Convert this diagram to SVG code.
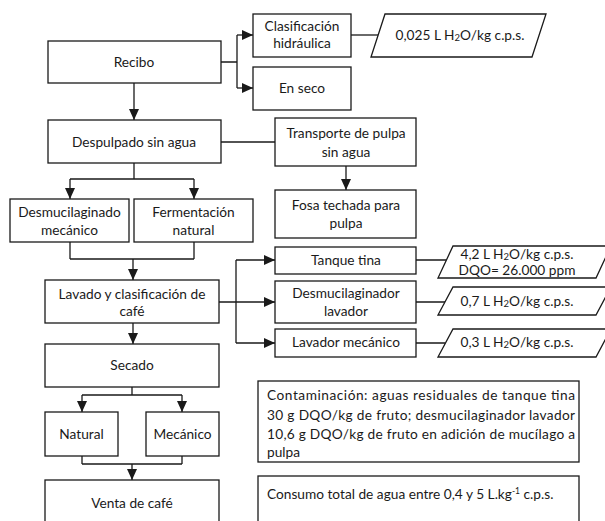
<svg xmlns="http://www.w3.org/2000/svg" width="605" height="521" viewBox="0 0 605 521">
<style>
.b{fill:#fff;stroke:#1a1a1a;stroke-width:1.3}
.c{fill:none;stroke:#1a1a1a;stroke-width:1.3}
.a{marker-end:url(#ah)}
text{font-family:Lato,"Liberation Sans",sans-serif;font-size:13.7px;fill:#1a1a1a}
.m{text-anchor:middle}
</style>
<defs>
<marker id="ah" markerUnits="userSpaceOnUse" markerWidth="12" markerHeight="10" refX="11" refY="5" orient="auto">
<path d="M0,0 L11,5 L0,10 z" fill="#1a1a1a"/>
</marker>
</defs>
<rect width="605" height="521" fill="#fff"/>
<g id="connectors">
<path class="c" d="M221,62 H237 M237,35 V88"/>
<path class="c a" d="M237,35 H253"/>
<path class="c a" d="M237,88 H253"/>
<path class="c" d="M351,35 H380"/>
<path class="c a" d="M134,83 V120"/>
<path class="c" d="M221,142 H275"/>
<path class="c a" d="M346,166 V190"/>
<path class="c" d="M134,163 V179 M70,179 H194"/>
<path class="c a" d="M70,179 V199"/>
<path class="c a" d="M194,179 V199"/>
<path class="c" d="M70,242 V259 M194,242 V259 M70,259 H194"/>
<path class="c a" d="M133,259 V280"/>
<path class="c" d="M219,302 H236 M236,260 V343"/>
<path class="c a" d="M236,260 H275"/>
<path class="c a" d="M236,302 H275"/>
<path class="c a" d="M236,343 H275"/>
<path class="c" d="M416,260 H446 M416,302 H445 M416,343 H445"/>
<path class="c a" d="M133,323 V344"/>
<path class="c" d="M132,387 V395 M82,395 H182"/>
<path class="c a" d="M82,395 V412"/>
<path class="c a" d="M182,395 V412"/>
<path class="c" d="M82,456 V464 M182,456 V464 M82,464 H182"/>
<path class="c a" d="M132,464 V480"/>
</g>
<g id="recibo"><rect class="b" x="48" y="41" width="173" height="42"/><text class="m" x="134" y="66.5">Recibo</text></g>
<g id="clasificacion"><rect class="b" x="253" y="14" width="98" height="43"/><text class="m" x="302" y="31">Clasificación</text><text class="m" x="302" y="48">hidráulica</text></g>
<g id="enseco"><rect class="b" x="253" y="67" width="98" height="43"/><text class="m" x="302" y="92.5">En seco</text></g>
<g id="agua025"><polygon class="b" points="385,14 546,14 532,57 371,57"/><text class="m" x="460" y="39.5">0,025 L H<tspan font-size="9.5" dy="1">2</tspan><tspan dy="-1">O/kg c.p.s.</tspan></text></g>
<g id="despulpado"><rect class="b" x="48" y="120" width="173" height="43"/><text class="m" x="134" y="146.5">Despulpado sin agua</text></g>
<g id="transporte"><rect class="b" x="275" y="118" width="141" height="48"/><text class="m" x="346" y="138">Transporte de pulpa</text><text class="m" x="346" y="157">sin agua</text></g>
<g id="fosa"><rect class="b" x="275" y="190" width="141" height="48"/><text class="m" x="346" y="209.5">Fosa techada para</text><text class="m" x="346" y="228">pulpa</text></g>
<g id="desmucilaginado"><rect class="b" x="10" y="199" width="119" height="43"/><text class="m" x="69.5" y="217">Desmucilaginado</text><text class="m" x="69.5" y="235">mecánico</text></g>
<g id="fermentacion"><rect class="b" x="134" y="199" width="119" height="43"/><text class="m" x="193.5" y="217">Fermentación</text><text class="m" x="193.5" y="235">natural</text></g>
<g id="lavado"><rect class="b" x="45" y="280" width="174" height="43"/><text class="m" x="132" y="298.5">Lavado y clasificación de</text><text class="m" x="132" y="316">café</text></g>
<g id="tanque"><rect class="b" x="275" y="247" width="141" height="27"/><text class="m" x="346" y="264.5">Tanque tina</text></g>
<g id="desmuclavador"><rect class="b" x="275" y="281" width="141" height="42"/><text class="m" x="346" y="298">Desmucilaginador</text><text class="m" x="346" y="316">lavador</text></g>
<g id="lavadormec"><rect class="b" x="275" y="329" width="141" height="28"/><text class="m" x="346" y="347">Lavador mecánico</text></g>
<g id="agua42"><polygon class="b" points="453,246 611,246 596,278 438,278"/><text class="m" x="517" y="258.5">4,2 L H<tspan font-size="9.5" dy="1">2</tspan><tspan dy="-1">O/kg c.p.s.</tspan></text><text class="m" x="517" y="274.5">DQO= 26.000 ppm</text></g>
<g id="agua07"><polygon class="b" points="453,287 611,287 596,315 438,315"/><text class="m" x="517" y="306">0,7 L H<tspan font-size="9.5" dy="1">2</tspan><tspan dy="-1">O/kg c.p.s.</tspan></text></g>
<g id="agua03"><polygon class="b" points="453,329 611,329 596,357 438,357"/><text class="m" x="517" y="347">0,3 L H<tspan font-size="9.5" dy="1">2</tspan><tspan dy="-1">O/kg c.p.s.</tspan></text></g>
<g id="secado"><rect class="b" x="45" y="344" width="174" height="43"/><text class="m" x="132" y="370">Secado</text></g>
<g id="natural"><rect class="b" x="45" y="412" width="73" height="44"/><text class="m" x="81.5" y="438.5">Natural</text></g>
<g id="mecanico"><rect class="b" x="146" y="412" width="73" height="44"/><text class="m" x="182.5" y="438.5">Mecánico</text></g>
<g id="venta"><rect class="b" x="45" y="480" width="174" height="50"/><text class="m" x="132" y="507.5">Venta de café</text></g>
<g id="contaminacion"><rect class="b" x="258" y="381" width="321" height="81"/>
<text x="267" y="400" textLength="308" lengthAdjust="spacing">Contaminación: aguas residuales de tanque tina</text>
<text x="267" y="420" textLength="308" lengthAdjust="spacing">30 g DQO/kg de fruto; desmucilaginador lavador</text>
<text x="267" y="438.5" textLength="308" lengthAdjust="spacing">10,6 g DQO/kg de fruto en adición de mucílago a</text>
<text x="267" y="457">pulpa</text></g>
<g id="consumo"><rect class="b" x="258" y="476" width="321" height="60"/><text x="267" y="498.5">Consumo total de agua entre 0,4 y 5 L.kg<tspan font-size="8.5" dy="-5">-1</tspan><tspan dy="5"> c.p.s.</tspan></text></g>
</svg>
